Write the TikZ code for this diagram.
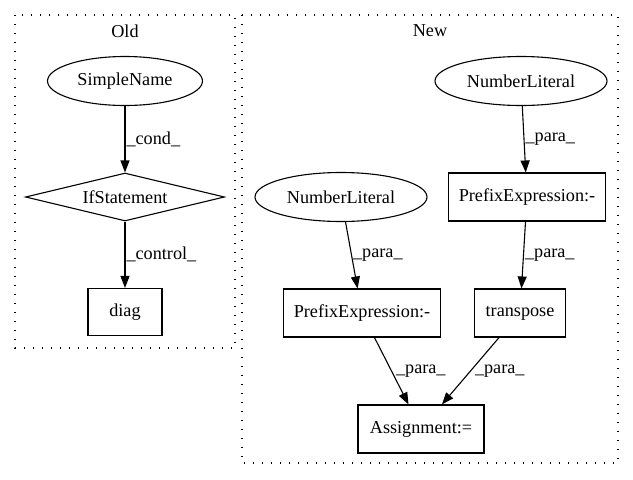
\documentclass[tikz,border=0pt]{standalone}
\usepackage{fontspec}
\setmainfont{Liberation Serif}
\usetikzlibrary{shapes.geometric,arrows.meta}
\begin{document}
\begin{tikzpicture}[x=1pt,y=-1pt,
  every node/.style={font=\fontsize{18.2}{22}\selectfont},
  cluster/.style={draw,line width=1.2pt,dash pattern=on 1.4pt off 7.6pt},
  ell/.style={draw,ellipse,line width=1.1pt,inner sep=0pt,minimum height=49pt},
  box/.style={draw,rectangle,line width=1.1pt,inner sep=0pt,minimum height=48pt},
  dia/.style={draw,diamond,line width=1.1pt,inner sep=0pt,shape aspect=4.1,minimum width=199pt,minimum height=48pt},
  edge/.style={line width=1.1pt,-{Triangle[length=12pt,width=9pt]}},
  lbl/.style={pos=0.5,anchor=west,inner sep=1pt}]
  \useasboundingbox (0,0) rectangle (633,480);

  % clusters
  \draw[cluster] (15,15) rectangle (235,348);
  \node (oldtitle) at (125,31) {Old};
  \draw[cluster] (242,15) rectangle (618,463);
  \node (newtitle) at (430,31) {New};

  % Old graph
  \node[ell,minimum width=155pt] (sn) at (125,81) {SimpleName};
  \node[dia] (ifs) at (125,197) {IfStatement};
  \node[box,minimum width=74pt,minimum height=47pt] (diag) at (125,312) {diag};

  \draw[edge] (sn) -- node[lbl] {\_cond\_} (ifs);
  \draw[edge] (ifs) -- node[lbl] {\_control\_} (diag);

  % New graph
  \node[ell,minimum width=172pt] (nlr) at (521,81) {NumberLiteral};
  \node[box,minimum width=157pt] (per) at (527,197) {PrefixExpression:-};
  \node[ell,minimum width=172pt] (nll) at (341,197) {NumberLiteral};
  \node[box,minimum width=157pt] (pel) at (362,313) {PrefixExpression:-};
  \node[box,minimum width=91pt] (tr) at (520,313) {transpose};
  \node[box,minimum width=126pt] (asg) at (421,429) {Assignment:=};

  \draw[edge] (nlr) -- node[lbl] {\_para\_} (per);
  \draw[edge] (per) -- node[lbl] {\_para\_} (tr);
  \draw[edge] (nll) -- node[lbl] {\_para\_} (pel);
  \draw[edge] (pel) -- node[lbl,xshift=3pt] {\_para\_} (asg);
  \draw[edge] (tr) -- node[lbl,xshift=3pt] {\_para\_} (asg);
\end{tikzpicture}
\end{document}
